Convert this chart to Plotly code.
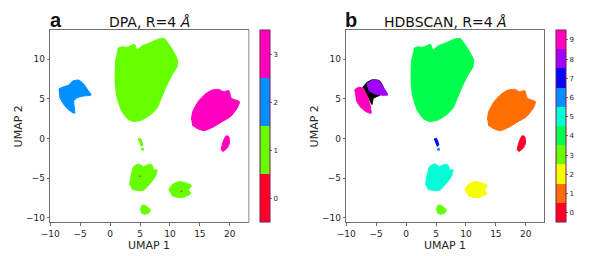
import plotly.graph_objects as go
from plotly.subplots import make_subplots

W, H = 591, 256

main_x = [1.29, 1.96, 2.80, 4.08, 4.47, 5.31, 6.71, 8.10, 9.11, 9.78, 10.62, 11.29, 11.18, 10.34, 9.50, 8.55, 7.83, 6.71, 5.31, 3.92, 2.80, 1.85, 1.12, 0.84, 0.84, 0.95]
main_y = [11.38, 11.59, 11.51, 11.89, 11.17, 11.68, 12.10, 12.56, 12.60, 11.93, 10.96, 9.91, 9.07, 8.02, 6.76, 5.08, 3.82, 2.98, 2.35, 2.14, 2.56, 3.61, 5.29, 6.97, 8.65, 10.12]
left_x = [-8.60, -7.76, -6.92, -6.25, -5.25, -4.41, -3.85, -3.18, -4.41, -5.52, -6.08, -5.92, -6.92, -7.76, -8.49]
left_y = [6.26, 6.55, 6.76, 7.26, 7.39, 6.89, 6.26, 5.50, 5.37, 5.16, 4.74, 3.19, 3.61, 4.32, 5.29]
right_x = [13.58, 13.80, 14.70, 15.93, 17.04, 18.16, 19.0, 19.84, 20.28, 21.62, 21.23, 20.12, 18.72, 17.04, 15.65, 14.53, 13.69]
right_y = [2.35, 3.40, 4.66, 5.63, 6.13, 6.21, 5.92, 6.05, 5.08, 4.66, 3.82, 2.77, 2.14, 1.38, 1.0, 1.30, 1.72]
sliver_r_x = [18.55, 18.83, 19.39, 19.84, 19.95, 19.56, 18.83]
sliver_r_y = [-1.43, -0.51, 0.37, 0.25, -0.59, -1.22, -1.64]
sliver_c_x = [4.64, 5.03, 5.47, 5.14]
sliver_c_y = [-0.08, 0.04, -0.8, -1.0]
speck_x = [5.42]
speck_y = [-1.34]
lower_x = [3.25, 3.47, 3.92, 4.75, 5.59, 6.43, 6.99, 7.27, 7.83, 7.55, 6.71, 5.70, 4.75, 3.64]
lower_y = [-5.84, -4.79, -3.53, -3.20, -3.53, -3.24, -3.32, -3.95, -3.95, -4.79, -5.64, -6.47, -6.56, -6.39]
oval_x = [9.78, 10.34, 11.46, 12.57, 13.58, 13.13, 13.52, 12.57, 11.46, 10.34]
oval_y = [-6.47, -5.84, -5.42, -5.55, -5.93, -6.47, -6.90, -7.32, -7.44, -7.19]
bottom_x = [5.03, 5.37, 6.04, 6.71, 6.43, 5.70, 5.14]
bottom_y = [-8.99, -8.37, -8.49, -8.99, -9.42, -9.54, -9.33]
noise_a_x = [5.0, 11.9]
noise_a_y = [-4.75, -6.65]
left_low_x = [-8.65, -7.98, -7.15, -6.59, -6.03, -5.86, -6.70, -7.70, -8.37]
left_low_y = [6.13, 6.47, 6.34, 5.50, 4.24, 3.19, 3.40, 4.03, 4.87]
left_up_x = [-6.59, -5.75, -4.63, -3.79, -3.07, -4.35, -5.47, -6.31]
left_up_y = [6.89, 7.31, 7.31, 6.47, 5.50, 5.50, 5.71, 6.13]
unassigned_x = [-7.3, -6.6, -5.75, -4.5, -3.8, -4.35, -5.47, -5.7, -6.3, -7.0]
unassigned_y = [6.4, 7.05, 7.4, 7.33, 6.45, 5.50, 5.08, 4.3, 5.2, 6.1]

labels_a = [0, 1, 2, 3]
colors_a = ["#ff0029", "#66ff00", "#0090ff", "#ff00bf"]
labels_b = [0, 1, 2, 3, 4, 5, 6, 7, 8, 9]
colors_b = ["#ff0029", "#ff6e00", "#f5ff00", "#66ff00", "#00ff4d",
            "#00ffd5", "#0090ff", "#0000ff", "#a000ff", "#ff00bf"]

x_ticks = [-10, -5, 0, 5, 10, 15, 20]
y_ticks = [-10, -5, 0, 5, 10]
GREY = "#6e6e6e"
TEXT = "#262626"

fig = make_subplots(rows=1, cols=2)


def blob(col, xs, ys, color):
    fig.add_trace(go.Scatter(x=xs, y=ys, mode="lines", fill="toself", fillcolor=color,
                             line=dict(color=color, width=1, shape="spline", smoothing=0.5),
                             hoverinfo="skip"), row=1, col=col)


def dots(col, xs, ys, color, size=2):
    fig.add_trace(go.Scatter(x=xs, y=ys, mode="markers",
                             marker=dict(color=color, size=size, line=dict(width=0)),
                             hoverinfo="skip"), row=1, col=col)


def stepped(colors):
    n = len(colors)
    scale = []
    for i, c in enumerate(colors):
        scale += [[i / n, c], [(i + 1) / n, c]]
    return scale


def colorbar(col, labels, colors, left_px):
    fig.add_trace(go.Scatter(
        x=[None], y=[None], mode="markers", hoverinfo="skip",
        marker=dict(color=[labels[0]], cmin=labels[0] - 0.5, cmax=labels[-1] + 0.5,
                    colorscale=stepped(colors), showscale=True,
                    colorbar=dict(x=left_px / W, xanchor="left", xpad=0, ypad=0,
                                  y=1 - 222.3 / H, yanchor="bottom", len=192 / H, lenmode="fraction",
                                  thickness=10, thicknessmode="pixels",
                                  tickvals=labels, ticktext=[str(v) for v in labels],
                                  ticks="outside", ticklen=2, tickwidth=1, tickcolor=GREY,
                                  tickfont=dict(family="DejaVu Sans", size=7, color=TEXT),
                                  outlinecolor="#7a1a50", outlinewidth=1)),
    ), row=1, col=col)


# Panel a
blob(1, main_x, main_y, colors_a[1])
blob(1, left_x, left_y, colors_a[2])
blob(1, right_x, right_y, colors_a[3])
blob(1, sliver_r_x, sliver_r_y, colors_a[3])
blob(1, sliver_c_x, sliver_c_y, colors_a[1])
dots(1, speck_x, speck_y, colors_a[1], 3)
blob(1, lower_x, lower_y, colors_a[1])
blob(1, oval_x, oval_y, colors_a[1])
blob(1, bottom_x, bottom_y, colors_a[1])
dots(1, noise_a_x, noise_a_y, colors_a[0], 1.5)
colorbar(1, labels_a, colors_a, 260)

# Panel b
blob(2, main_x, main_y, colors_b[4])
blob(2, unassigned_x, unassigned_y, "#000000")
blob(2, left_low_x, left_low_y, colors_b[9])
blob(2, left_up_x, left_up_y, colors_b[8])
blob(2, right_x, right_y, colors_b[1])
blob(2, sliver_r_x, sliver_r_y, colors_b[0])
blob(2, sliver_c_x, sliver_c_y, colors_b[7])
dots(2, speck_x, speck_y, colors_b[6], 3)
blob(2, lower_x, lower_y, colors_b[5])
blob(2, oval_x, oval_y, colors_b[2])
blob(2, bottom_x, bottom_y, colors_b[3])
colorbar(2, labels_b, colors_b, 556)

domains = {1: (50.3, 247.7), 2: (346.3, 543.7)}
for col, (l, r) in domains.items():
    fig.update_xaxes(row=1, col=col, domain=[l / W, r / W], range=[-10, 23], tickvals=x_ticks,
                     ticktext=[str(v).replace("-", "\u2212") for v in x_ticks],
                     showgrid=False, zeroline=False, mirror=True, showline=True, linecolor=GREY, linewidth=1,
                     ticks="outside", ticklen=2.5, tickwidth=1, tickcolor=GREY, automargin=False,
                     tickfont=dict(family="DejaVu Sans", size=9, color=TEXT),
                     title=dict(text="UMAP 1", standoff=0, font=dict(family="DejaVu Sans", size=11, color=TEXT)))
    fig.update_yaxes(row=1, col=col, domain=[1 - 222.3 / H, 1 - 30.3 / H], range=[-10.55, 13.66], tickvals=y_ticks,
                     ticktext=[str(v).replace("-", "\u2212") for v in y_ticks],
                     showgrid=False, zeroline=False, mirror=True, showline=True, linecolor=GREY, linewidth=1,
                     ticks="outside", ticklen=2.5, tickwidth=1, tickcolor=GREY, automargin=False,
                     tickfont=dict(family="DejaVu Sans", size=9, color=TEXT),
                     title=dict(text="UMAP 2", standoff=1, font=dict(family="DejaVu Sans", size=11, color=TEXT)))

notes = [(149 / W, "DPA, R=4 <i>\u00c5</i>"),
         (445 / W, "HDBSCAN, R=4 <i>\u00c5</i>")]
for x, text in notes:
    fig.add_annotation(x=x, y=1 - 32 / H, xref="paper", yref="paper", xanchor="center", yanchor="bottom",
                       text=text, showarrow=False, font=dict(family="DejaVu Sans", size=14, color="#111111"))
for x, text in [(50 / W, "a"), (345 / W, "b")]:
    fig.add_annotation(x=x, y=1 - 33 / H, xref="paper", yref="paper", xanchor="left", yanchor="bottom",
                       text=f"<b>{text}</b>", showarrow=False, xshift=-2,
                       font=dict(family="Liberation Sans", size=20, color="#111111"))

fig.add_shape(type="line", xref="x domain", yref="y domain", x0=1.006, x1=1.006, y0=0, y1=1,
              line=dict(color="#bdbdbd", width=1.5))

fig.update_layout(width=W, height=H, autosize=False, margin=dict(l=0, r=0, t=0, b=0),
                  showlegend=False, paper_bgcolor="white", plot_bgcolor="white")
fig.write_html("out.html", config=dict(displayModeBar=False),
               post_script="document.body.style.margin='0';")
